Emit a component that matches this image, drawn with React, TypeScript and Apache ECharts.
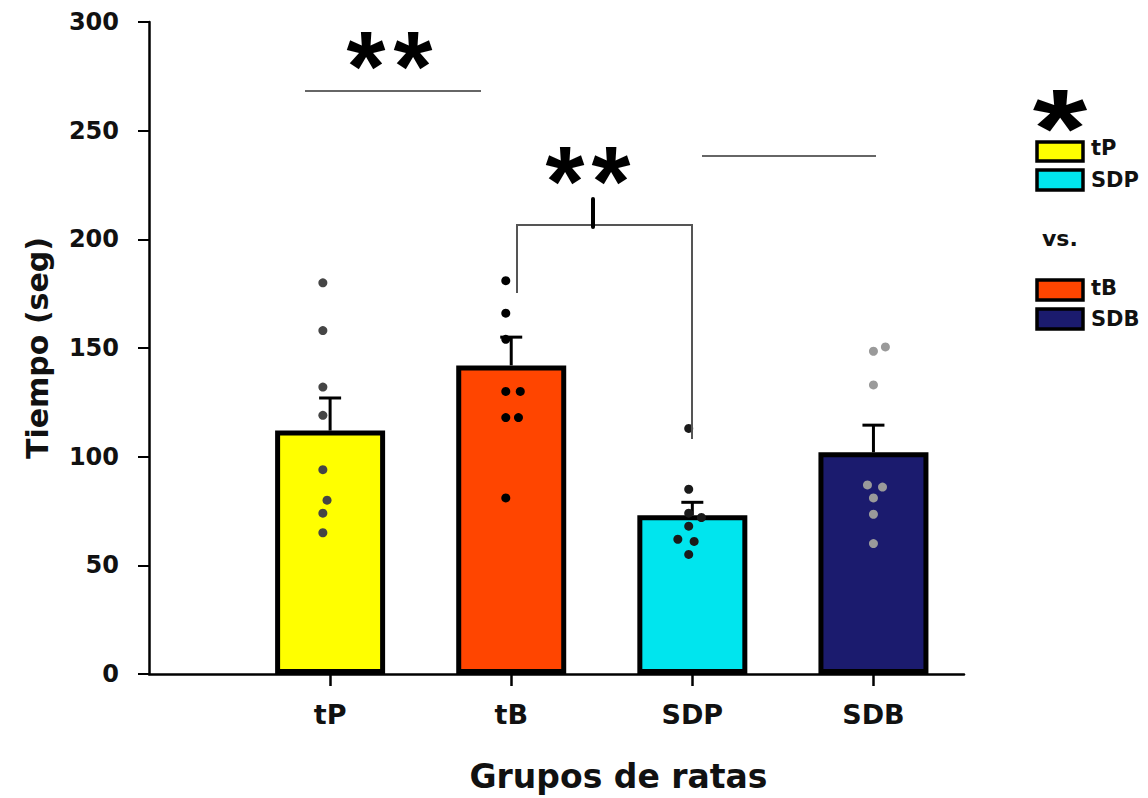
import React, { useEffect, useRef } from "react";
import * as echarts from "echarts";

const categories = ["tP", "tB", "SDP", "SDB"];
const means = [112, 142, 73, 102];
const errTops = [127, 155, 79, 114.5];
const barColors = ["#FFFF00", "#FF4500", "#00E5EE", "#1B1B6E"];
const dotColors = ["#454545", "#000000", "#1A1A1A", "#9A9A9A"];

const dotsTP = [180, 158, 132, 119, 94, 80, 74, 65];
const jitterTP = [-0.04, -0.04, -0.04, -0.04, -0.04, -0.017, -0.04, -0.04];
const dotsTB = [181, 166, 154, 130, 130, 118, 118, 81];
const jitterTB = [-0.03, -0.03, -0.03, -0.03, 0.05, -0.03, 0.04, -0.03];
const dotsSDP = [113, 85, 74, 72, 68, 62, 61, 55];
const jitterSDP = [-0.02, -0.02, -0.02, 0.05, -0.02, -0.08, 0.01, -0.02];
const dotsSDB = [150.5, 148.5, 133, 87, 86, 81, 73.5, 60];
const jitterSDB = [0.066, 0, 0, -0.033, 0.05, 0, 0, 0];

const yTicks = { min: 0, max: 300, interval: 50 };

const FONT = "DejaVu Sans";
const AST = "Liberation Sans";

export default function App() {
  const ref = useRef<HTMLDivElement>(null);
  useEffect(() => {
    const chart = echarts.init(ref.current!, null, { renderer: "svg" });
    const dotSets = [
      [dotsTP, jitterTP],
      [dotsTB, jitterTB],
      [dotsSDP, jitterSDP],
      [dotsSDB, jitterSDB],
    ];
    const scatterSeries = dotSets.map(([vals, jit], i) => ({
      type: "scatter",
      z: 5,
      symbolSize: 9,
      itemStyle: { color: dotColors[i], opacity: 1 },
      data: (vals as number[]).map((v, k) => [i + 1 + (jit as number[])[k], v]),
    }));

    const ast = (x: number, y: number, size = 100) => ({
      type: "text",
      x,
      y,
      z: 10,
      style: { text: "*", font: `bold ${size}px "${AST}"`, fill: "#000", align: "center", verticalAlign: "middle" },
    });

    const option: any = {
      animation: false,
      backgroundColor: "#fff",
      grid: { left: 149, top: 22, right: 184, bottom: 115 },
      xAxis: {
        type: "value",
        min: 0,
        max: 4.5,
        interval: 1,
        axisLine: { show: true, lineStyle: { color: "#000", width: 2.5 } },
        axisTick: { show: true, customValues: [1, 2, 3, 4], length: 12, lineStyle: { color: "#000", width: 2.5 } },
        axisLabel: {
          customValues: [1, 2, 3, 4],
          formatter: (v: number) => categories[Math.round(v) - 1] ?? "",
          fontFamily: FONT,
          fontWeight: "bold",
          fontSize: 27,
          color: "#111",
          margin: 27,
        },
        splitLine: { show: false },
        name: "Grupos de ratas",
        nameLocation: "middle",
        nameGap: 86,
        nameTextStyle: { fontFamily: FONT, fontWeight: "bold", fontSize: 33, color: "#111", padding: [0, 0, 0, 124] },
      },
      yAxis: {
        type: "value",
        min: yTicks.min,
        max: yTicks.max,
        interval: yTicks.interval,
        axisLine: { show: true, lineStyle: { color: "#000", width: 2.5 } },
        axisTick: { show: true, inside: false, length: 11, lineStyle: { color: "#000", width: 2 } },
        axisLabel: { fontFamily: FONT, fontWeight: "bold", fontSize: 24, color: "#111", margin: 30 },
        splitLine: { show: false },
        name: "Tiempo (seg)",
        nameLocation: "middle",
        nameGap: 97,
        nameTextStyle: { fontFamily: FONT, fontWeight: "bold", fontSize: 30, color: "#111" },
      },
      series: [
        {
          type: "bar",
          barWidth: 110,
          z: 2,
          data: means.map((m, i) => ({
            value: [i + 1, m],
            itemStyle: { color: barColors[i], borderColor: "#000", borderWidth: 5 },
          })),
        },
        {
          type: "custom",
          z: 4,
          data: means.map((m, i) => [i + 1, m, errTops[i]]),
          renderItem: (params: any, api: any) => {
            const x = api.value(0);
            const p0 = api.coord([x, api.value(1)]);
            const p1 = api.coord([x, api.value(2)]);
            const style = { stroke: "#000", lineWidth: 3 };
            return {
              type: "group",
              children: [
                { type: "line", shape: { x1: p0[0], y1: p0[1], x2: p1[0], y2: p1[1] }, style },
                { type: "line", shape: { x1: p1[0] - 11, y1: p1[1], x2: p1[0] + 11, y2: p1[1] }, style },
              ],
            };
          },
        },
        ...scatterSeries,
      ],
      graphic: [
        { type: "line", shape: { x1: 305, y1: 91, x2: 481, y2: 91 }, style: { stroke: "#666", lineWidth: 2 }, z: 10 },
        ast(366, 66),
        ast(413, 66),
        { type: "line", shape: { x1: 702, y1: 156, x2: 876, y2: 156 }, style: { stroke: "#666", lineWidth: 2 }, z: 10 },
        ast(565, 181),
        ast(611, 181),
        { type: "polyline", shape: { points: [[517, 293], [517, 225], [692, 225], [692, 439]] }, style: { stroke: "#555", lineWidth: 2, fill: null }, z: 10 },
        { type: "line", shape: { x1: 593, y1: 199, x2: 593, y2: 227 }, style: { stroke: "#000", lineWidth: 4, lineCap: "round" }, z: 10 },
        { ...ast(1060, 128, 112), scaleX: 1.25, originX: 0, originY: 0 },
        { type: "rect", shape: { x: 1037, y: 142, width: 46, height: 19 }, style: { fill: barColors[0], stroke: "#000", lineWidth: 3.5 }, z: 10 },
        { type: "text", x: 1091, y: 148, style: { text: "tP", font: `bold 21px "${FONT}"`, fill: "#111", verticalAlign: "middle" }, z: 10 },
        { type: "rect", shape: { x: 1037, y: 170, width: 46, height: 20 }, style: { fill: barColors[2], stroke: "#000", lineWidth: 3.5 }, z: 10 },
        { type: "text", x: 1091, y: 180, style: { text: "SDP", font: `bold 21px "${FONT}"`, fill: "#111", verticalAlign: "middle" }, z: 10 },
        { type: "text", x: 1042, y: 238, style: { text: "vs.", font: `bold 22px "${FONT}"`, fill: "#111", verticalAlign: "middle" }, z: 10 },
        { type: "rect", shape: { x: 1037, y: 280, width: 46, height: 20 }, style: { fill: barColors[1], stroke: "#000", lineWidth: 3.5 }, z: 10 },
        { type: "text", x: 1091, y: 288, style: { text: "tB", font: `bold 21px "${FONT}"`, fill: "#111", verticalAlign: "middle" }, z: 10 },
        { type: "rect", shape: { x: 1037, y: 309, width: 46, height: 20 }, style: { fill: barColors[3], stroke: "#000", lineWidth: 3.5 }, z: 10 },
        { type: "text", x: 1091, y: 319, style: { text: "SDB", font: `bold 21px "${FONT}"`, fill: "#111", verticalAlign: "middle" }, z: 10 },
      ],
    };
    chart.setOption(option);
    return () => chart.dispose();
  }, []);
  return (
    <div
      ref={ref}
      style={{ position: "absolute", left: 0, top: 0, width: 1148, height: 798, background: "#fff" }}
    />
  );
}
